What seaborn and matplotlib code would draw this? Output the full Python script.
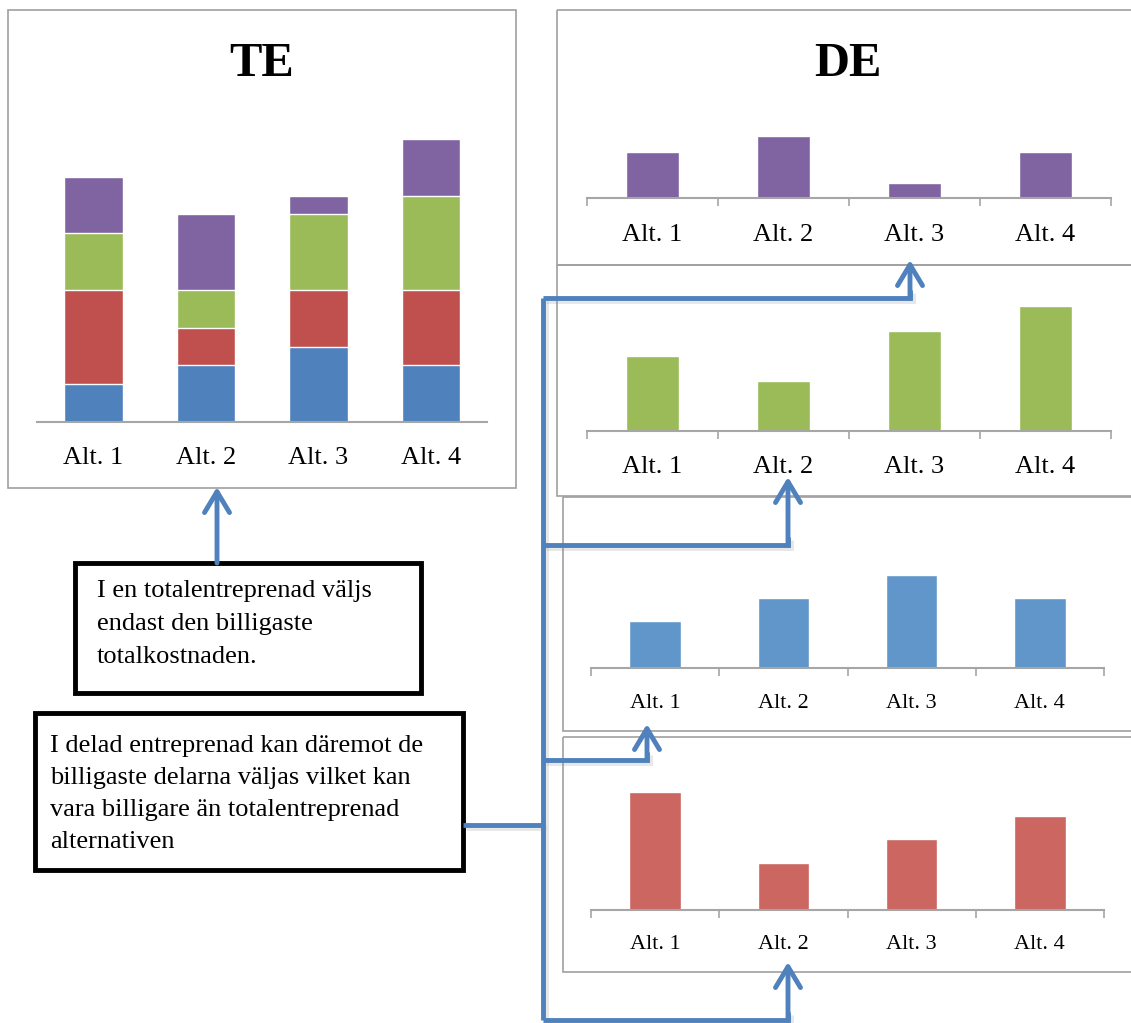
import matplotlib
matplotlib.use('Agg')
import numpy as np
import pandas as pd
import matplotlib.pyplot as plt
import matplotlib.patheffects as pe
import seaborn as sns
from matplotlib.patches import Rectangle

# Data: cost parts for each alternative (stack order bottom -> top)
alts = ['Alt. 1', 'Alt. 2', 'Alt. 3', 'Alt. 4']
blue = [2, 3, 4, 3]
red = [5, 2, 3, 4]
green = [3, 2, 4, 5]
purple = [3, 4, 1, 3]

te_colors = ['#4F81BD', '#C0504D', '#9BBB59', '#8064A2']
de_colors = {'purple': '#8064A2', 'green': '#9BBB59', 'blue': '#6096CA', 'red': '#CC6660'}

te_lines = ['I en totalentreprenad väljs', 'endast den billigaste', 'totalkostnaden.']
de_lines = ['I delad entreprenad kan däremot de', 'billigaste delarna väljas vilket kan',
            'vara billigare än totalentreprenad', 'alternativen']

sns.set_theme(style='white')
plt.rcParams['font.family'] = ['Liberation Serif', 'DejaVu Serif']
plt.rcParams['text.color'] = 'black'

W, H = 1131, 1023
fig = plt.figure(figsize=(W / 100, H / 100), dpi=100)
fig.patch.set_facecolor('white')


def px_axes(x0, y0, x1, y1):
    # axes placed in pixel coordinates (origin top-left)
    ax = fig.add_axes([x0 / W, 1 - y1 / H, (x1 - x0) / W, (y1 - y0) / H])
    ax.set_facecolor('none')
    return ax


def style_axis(ax, ymax, fontsize, pad, ticks=True):
    ax.set_xlim(-0.5, 3.5)
    ax.set_ylim(0, ymax)
    for s in ['top', 'left', 'right']:
        ax.spines[s].set_visible(False)
    ax.spines['bottom'].set_color('#A6A6A6')
    ax.spines['bottom'].set_linewidth(1.5)
    ax.set_yticks([])
    ax.set_xlabel('')
    ax.set_ylabel('')
    if ticks:
        ax.set_xticks(np.arange(-0.5, 4, 1))
        ax.set_xticklabels([])
        ax.tick_params(axis='x', which='major', length=6, width=1.2, color='#A6A6A6', direction='out', bottom=True)
    else:
        ax.set_xticks([])
    ax.set_xticks(range(4), minor=True)
    ax.set_xticklabels(alts, minor=True, fontsize=fontsize, color='black')
    ax.tick_params(axis='x', which='minor', length=0, pad=pad)


# TE stacked chart - draw cumulative totals from top layer down
df = pd.DataFrame({'alt': alts, 'blue': blue, 'red': red, 'green': green, 'purple': purple})
layers = ['blue', 'red', 'green', 'purple']
cum = df[layers].cumsum(axis=1)
te_max = cum['purple'].max()
ax_te = px_axes(37, 422 - te_max * 18.87, 487, 422)
for layer, color in reversed(list(zip(layers, te_colors))):
    sns.barplot(x=df['alt'], y=cum[layer], color=color, width=0.52, saturation=1, ax=ax_te)
style_axis(ax_te, te_max, 19, 18, ticks=False)

# DE single charts
de_panels = [
    ('purple', purple, 587, 1111, 198, 15.5, 19, 19),
    ('green', green, 587, 1111, 431, 25.0, 19, 18),
    ('blue', blue, 591, 1104, 668, 23.3, 16, 19),
    ('red', red, 591, 1104, 910, 23.6, 16, 18),
]
for name, vals, x0, x1, base, scale, fs, pad in de_panels:
    ymax = max(vals)
    ax = px_axes(x0, base - ymax * scale, x1, base)
    sns.barplot(x=alts, y=vals, color=de_colors[name], width=0.4, saturation=1, ax=ax)
    style_axis(ax, ymax, fs, pad, ticks=True)

# overlay for frames, text boxes and arrows
ov = fig.add_axes([0, 0, 1, 1])
ov.set_facecolor('none')
ov.set_xlim(0, W)
ov.set_ylim(H, 0)
ov.axis('off')

frames = [(8, 10, 516, 488), (557, 10, 1145, 265), (557, 265, 1145, 496),
          (563, 497, 1145, 731), (563, 737, 1145, 972)]
for x0, y0, x1, y1 in frames:
    ov.add_patch(Rectangle((x0, y0), x1 - x0, y1 - y0, fill=False, edgecolor='#A0A0A0', lw=1.2))

ov.text(262, 64, 'TE', ha='center', va='center', fontsize=35, fontweight='bold', color='black')
ov.text(848, 64, 'DE', ha='center', va='center', fontsize=35, fontweight='bold', color='black')

# text boxes
ov.add_patch(Rectangle((75, 563), 346, 130, fill=False, edgecolor='black', lw=3.5))
ov.add_patch(Rectangle((35, 713), 428, 157, fill=False, edgecolor='black', lw=3.5))
for i, line in enumerate(te_lines):
    ov.text(97, 591 + i * 33, line, ha='left', va='center', fontsize=19, color='black')
for i, line in enumerate(de_lines):
    ov.text(50, 746 + i * 32, line, ha='left', va='center', fontsize=19, color='black')

# arrows
acol = '#4F81BD'
shadow = [pe.SimpleLineShadow(offset=(2, -2), shadow_color='#888888', alpha=0.2), pe.Normal()]
line_kw = dict(color=acol, lw=3.5, solid_capstyle='butt', solid_joinstyle='miter', path_effects=shadow)
arrow_kw = dict(arrowstyle='->,head_length=0.75,head_width=0.45', mutation_scale=20, color=acol, lw=3.5,
                shrinkA=0, shrinkB=0, capstyle='round', joinstyle='round')


def arrow(x0, y0, x1, y1):
    ov.annotate('', xy=(x1, y1), xytext=(x0, y0), arrowprops=arrow_kw)


arrow(217, 563, 217, 487)
ov.plot([463, 543], [825, 825], **line_kw)
ov.plot([543, 543], [298, 1020], **line_kw)
branches = [(298, 910, 260), (545, 788, 477), (760, 647, 724), (1020, 788, 962)]
for y, x, tip in branches:
    ov.plot([543, x, x], [y, y, y - 8], **line_kw)
    arrow(x, y, x, tip)

fig.savefig('out.png', dpi=100)
